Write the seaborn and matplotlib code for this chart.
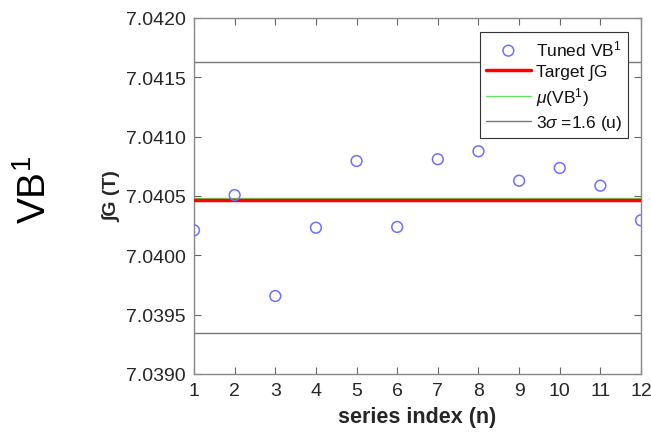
import numpy as np
import pandas as pd
import matplotlib
matplotlib.use("Agg")
import matplotlib.pyplot as plt
import seaborn as sns

# ---- data ----
series_index = [1, 2, 3, 4, 5, 6, 7, 8, 9, 10, 11, 12]
tuned_vb1 = [7.040211, 7.040508, 7.039657, 7.040233, 7.040795, 7.040239,
             7.040810, 7.040877, 7.040629, 7.040736, 7.040587, 7.040295]
target_G = 7.040466
mu_vb1 = 7.040484
three_sigma_upper = 7.041627
three_sigma_lower = 7.039346
y_ticks = [7.0390, 7.0395, 7.0400, 7.0405, 7.0410, 7.0415, 7.0420]
x_ticks = series_index

sns.set_theme(style="white")
plt.rcParams['font.family'] = ['Liberation Sans', 'DejaVu Sans']
plt.rcParams['mathtext.fontset'] = 'custom'
plt.rcParams['mathtext.it'] = 'Liberation Sans:italic'
plt.rcParams['mathtext.rm'] = 'Liberation Sans'

fig = plt.figure(figsize=(6.51, 4.39), dpi=100)
ax = fig.add_axes([194/651, 1-375/439, (641-194)/651, (375-19)/439])

df = pd.DataFrame({"n": series_index, "G": tuned_vb1})
sns.scatterplot(data=df, x="n", y="G", ax=ax, marker="o", s=60,
                facecolor="none", edgecolor="#6f6fff", linewidth=1.1,
                label="Tuned VB$^1$", zorder=4)

ax.axhline(target_G, color="#ff0000", lw=2.5, label="Target \u222bG", zorder=3)
ax.axhline(mu_vb1, color="#66e066", lw=1.0, label="$\\mu$(VB$^1$)", zorder=2)
ax.axhline(three_sigma_upper, color="#777777", lw=1.0, label="3$\\sigma$ =1.6 (u)", zorder=2)
ax.axhline(three_sigma_lower, color="#777777", lw=1.0, zorder=2)

ax.set_xlim(1, 12)
ax.set_ylim(7.0390, 7.0420)
ax.set_xticks(x_ticks)
ax.set_yticks(y_ticks)
ax.set_yticklabels([f"{v:.4f}" for v in y_ticks])
ax.tick_params(axis="both", direction="in", length=5, width=0.8, color="#666666",
               labelsize=14, labelcolor="#262626", top=True, right=True,
               left=True, bottom=True, pad=6)
for s in ax.spines.values():
    s.set_color("#888888")
    s.set_linewidth(1.0)

ax.set_xlabel("series index (n)", fontsize=15.5, fontweight="bold", color="#262626", labelpad=5)
ax.set_ylabel("\u222bG (T)", fontsize=14, fontweight="bold", color="#262626", labelpad=3)

leg = ax.legend(loc="upper right", bbox_to_anchor=(0.972, 0.96), fontsize=12.5,
                frameon=True, fancybox=False, framealpha=1, edgecolor="#333333",
                handlelength=2.6, handletextpad=0.3, borderpad=0.35, labelspacing=0.3,
                borderaxespad=0)
leg.get_frame().set_linewidth(0.8)
for t in leg.get_texts():
    t.set_color("#111111")

fig.text(35/651, 1-190/439, "VB$^1$", rotation=90, fontsize=28, ha="center", va="center",
         color="black")

fig.savefig("out.png", dpi=100)
